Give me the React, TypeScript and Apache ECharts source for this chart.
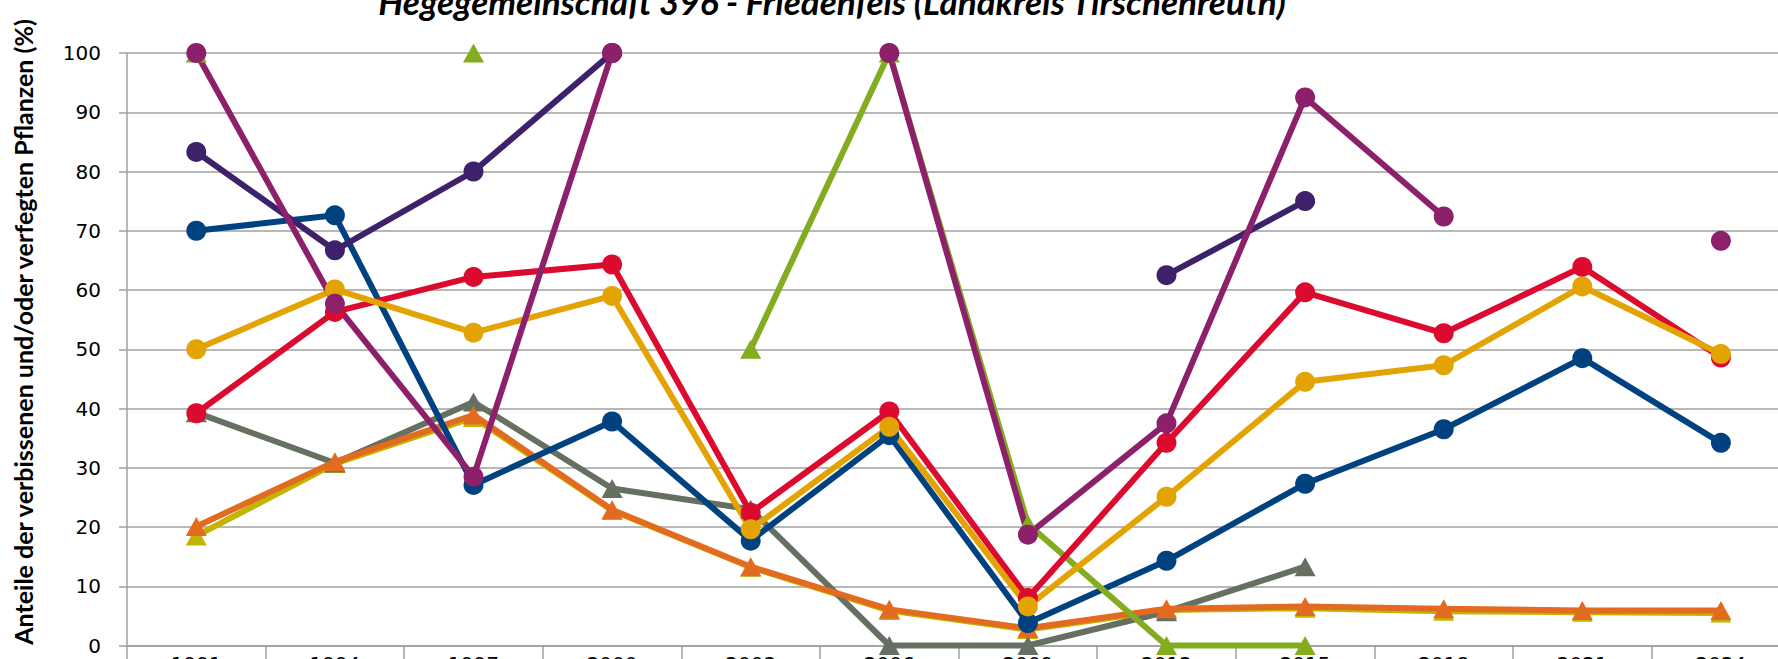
import React, { useEffect, useRef } from "react";
import * as echarts from "echarts";

const years = ["1991", "1994", "1997", "2000", "2003", "2006", "2009", "2012", "2015", "2018", "2021", "2024"];
const yTicks = [0, 10, 20, 30, 40, 50, 60, 70, 80, 90, 100];

// circle-marker series
const blue = [70, 72.6, 27.1, 37.8, 17.7, 35.5, 3.8, 14.3, 27.3, 36.5, 48.5, 34.2];
const darkPurple = [83.3, 66.7, 80, 100, null, null, null, 62.5, 75, null, null, null];
const magenta = [100, 57.7, 28.5, 100, null, 100, 18.7, 37.5, 92.5, 72.4, null, 68.3];
const red = [39.2, 56.3, 62.2, 64.3, 22.4, 39.5, 8.0, 34.2, 59.6, 52.7, 63.9, 48.6];
const yellow = [50, 60.1, 52.8, 59, 19.6, 36.9, 6.6, 25.1, 44.5, 47.3, 60.6, 49.2];
// triangle-marker series
const green = [100, null, 100, null, 50, 100, 20.5, 0, 0, null, null, null];
const grayGreen = [39.3, 30.8, 41.1, 26.5, 23, 0, 0, 5.7, 13.3, null, null, null];
const orange = [20.1, 31, 38.9, 22.9, 13.3, 6.1, 2.9, 6.2, 6.6, 6.2, 5.9, 5.9];
const olive = [18.5, 30.7, 38.5, 22.8, 13.2, 5.9, 2.7, 6.0, 6.3, 5.8, 5.6, 5.5];

const titleText = "Hegegemeinschaft 396 - Friedenfels (Landkreis Tirschenreuth)";
const yAxisTitle = "Anteile der verbissenen und/oder verfegten Pflanzen (%)";

export default function App() {
  const ref = useRef<HTMLDivElement>(null);
  useEffect(() => {
    if (!ref.current) return;
    const chart = echarts.init(ref.current, null, { renderer: "svg" });
    const mk = (name: string, data: (number | null)[], color: string, symbol: string, size: any) => ({
      name,
      type: "line",
      data,
      symbol,
      symbolSize: size,
      showAllSymbol: true,
      connectNulls: false,
      clip: false,
      lineStyle: { color, width: 6 },
      itemStyle: { color, borderWidth: 0 },
      emphasis: { disabled: true },
    });
    const circ = 20;
    const tri = [21, 19];
    chart.setOption({
      animation: false,
      backgroundColor: "#ffffff",
      grid: { left: 127, top: 53, width: 1663.2, height: 592.5, outerBoundsMode: "none", containLabel: false },
      xAxis: {
        type: "category",
        data: years,
        boundaryGap: true,
        axisLine: { show: true, lineStyle: { color: "#a0a0a0", width: 1.5 } },
        axisTick: { show: true, length: 20, interval: 0, lineStyle: { color: "#a0a0a0", width: 1.5 } },
        axisLabel: { color: "#000", fontFamily: "DejaVu Sans", fontSize: 20, margin: 8, interval: 0 },
        splitLine: { show: false },
      },
      yAxis: {
        type: "value",
        min: 0,
        max: 100,
        interval: 10,
        axisLine: { show: true, lineStyle: { color: "#a0a0a0", width: 1.5 } },
        axisTick: { show: true, length: 8, lineStyle: { color: "#a0a0a0", width: 1.5 } },
        axisLabel: {
          color: "#000",
          fontFamily: "DejaVu Sans",
          fontSize: 20,
          margin: 26,
          formatter: (v: number) => (yTicks.includes(v) ? String(v) : ""),
        },
        splitLine: { show: true, lineStyle: { color: "#a0a0a0", width: 1.5 } },
      },
      graphic: [
        {
          type: "text",
          x: 832,
          y: 1,
          style: {
            text: titleText,
            fill: "#000",
            font: "italic bold 35px Lato",
            textAlign: "center",
            textVerticalAlign: "middle",
          },
        },
        {
          type: "text",
          x: 23,
          y: 332,
          rotation: Math.PI / 2,
          style: {
            text: yAxisTitle,
            fill: "#000",
            font: "bold 25px Lato",
            textAlign: "center",
            textVerticalAlign: "middle",
          },
        },
      ],
      series: [
        mk("Reihe olivgelb", olive, "#c2b400", "triangle", tri),
        mk("Reihe graugrün", grayGreen, "#657060", "triangle", tri),
        mk("Reihe orange", orange, "#e36b1f", "triangle", tri),
        mk("Reihe blau", blue, "#004180", "circle", circ),
        mk("Reihe dunkelviolett", darkPurple, "#3d216a", "circle", circ),
        mk("Reihe grün", green, "#84ac21", "triangle", tri),
        mk("Reihe rot", red, "#dc0a2f", "circle", circ),
        mk("Reihe gelb", yellow, "#e3a403", "circle", circ),
        mk("Reihe magenta", magenta, "#8d206b", "circle", circ),
      ],
    });
    return () => chart.dispose();
  }, []);
  return (
    <div
      ref={ref}
      style={{ position: "absolute", left: 0, top: 0, width: 1778, height: 659, overflow: "hidden" }}
    />
  );
}
